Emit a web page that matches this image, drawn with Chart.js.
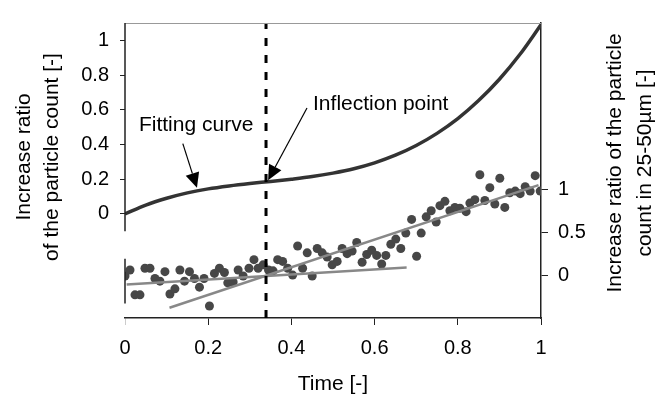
<!DOCTYPE html>
<html>
<head>
<meta charset="utf-8">
<script src="https://cdn.jsdelivr.net/npm/chart.js@4"></script>
<style>
  html, body { margin: 0; padding: 0; background: #fff; }
</style>
</head>
<body>
<canvas id="chart" width="667" height="401"></canvas>
<script>
// axis ticks
const timeTicks = [0, 0.2, 0.4, 0.6, 0.8, 1];
const leftTicks = [0, 0.2, 0.4, 0.6, 0.8, 1];
const rightTicks = [0, 0.5, 1];

// fitting curve (left axis)
const curveT = [0, 0.05, 0.1, 0.15, 0.2, 0.25, 0.3, 0.35, 0.4, 0.45, 0.5,
                0.55, 0.6, 0.65, 0.7, 0.75, 0.8, 0.85, 0.9, 0.95, 1];
const curveY = [0, 0.051, 0.09, 0.121, 0.144, 0.161, 0.175, 0.187, 0.2, 0.215, 0.235,
                0.26, 0.294, 0.338, 0.394, 0.464, 0.549, 0.653, 0.776, 0.921, 1.09];

// measured particle count ratio, 25-50um (right axis)
const scatterT = [0, 0.012, 0.024, 0.036, 0.048, 0.06, 0.072, 0.084, 0.096, 0.108,
                  0.12, 0.132, 0.143, 0.155, 0.167, 0.179, 0.19, 0.203, 0.215, 0.227,
                  0.239, 0.247, 0.26, 0.272, 0.284, 0.298, 0.31, 0.32, 0.332, 0.345,
                  0.356, 0.367, 0.379, 0.391, 0.403, 0.415, 0.427, 0.438, 0.45, 0.462,
                  0.474, 0.486, 0.498, 0.51, 0.522, 0.534, 0.546, 0.557, 0.57, 0.581,
                  0.593, 0.605, 0.617, 0.627, 0.639, 0.651, 0.663, 0.675, 0.689, 0.701,
                  0.712, 0.724, 0.736, 0.748, 0.757, 0.769, 0.781, 0.793, 0.805, 0.82,
                  0.829, 0.841, 0.853, 0.865, 0.877, 0.889, 0.901, 0.913, 0.925, 0.938,
                  0.95, 0.962, 0.974, 0.986, 0.998];
const scatterV = [-0.01, 0.06, -0.23, -0.23, 0.08, 0.08, -0.04, -0.07, 0.04, -0.22,
                  -0.16, 0.06, -0.07, 0.04, -0.04, -0.14, -0.04, -0.36, 0.02, 0.08,
                  0.03, -0.09, -0.08, 0.06, -0.01, 0.08, 0.18, 0.08, 0.12, 0.06,
                  0.05, 0.18, 0.16, 0.08, 0.0, 0.34, 0.08, 0.26, -0.01, 0.31,
                  0.26, 0.21, 0.12, 0.16, 0.31, 0.25, 0.28, 0.38, 0.15, 0.24,
                  0.29, 0.23, 0.13, 0.23, 0.36, 0.42, 0.31, 0.49, 0.65, 0.22,
                  0.49, 0.68, 0.75, 0.62, 0.81, 0.86, 0.75, 0.79, 0.78, 0.74,
                  0.84, 0.88, 1.17, 0.87, 1.02, 0.83, 1.13, 0.79, 0.96, 0.98,
                  0.95, 1.03, 0.98, 1.16, 0.98];

// two straight fits through the scatter
const fitLowT = [0.004, 0.677];
const fitLowV = [-0.11, 0.09];
const fitHighT = [0.107, 0.994];
const fitHighV = [-0.38, 1.05];

const inflectionT = 0.339;

const FONT = "'Liberation Sans', Arial, sans-serif";

// text + arrow notes, in data units of x / left axis
const notes = [
  { text: 'Fitting curve', t: 0.171, y: 0.51, align: 'center', fromT: 0.139, fromY: 0.405, toT: 0.173, toY: 0.15 },
  { text: 'Inflection point', t: 0.452, y: 0.63, align: 'left', fromT: 0.4375, fromY: 0.61, toT: 0.344, toY: 0.194 }
];

const toPoints = (xs, ys) => xs.map((x, i) => ({ x: x, y: ys[i] }));

const setTicks = (values) => (scale) => {
    scale.ticks = values.map(v => ({ value: v }));
};

const extras = {
    id: 'extras',
    afterDatasetsDraw(chart) {
        const ctx = chart.ctx;
        const x = chart.scales.x, yL = chart.scales.yL, yR = chart.scales.yR;
        const area = chart.chartArea;
        ctx.save();

        // thin top border
        ctx.strokeStyle = '#999';
        ctx.lineWidth = 1;
        ctx.beginPath();
        ctx.moveTo(area.left, area.top + 0.5);
        ctx.lineTo(area.right, area.top + 0.5);
        ctx.stroke();

        // broken left axis
        ctx.strokeStyle = '#222';
        ctx.lineWidth = 1.5;
        ctx.beginPath();
        ctx.moveTo(area.left, area.top);
        ctx.lineTo(area.left, yL.getPixelForValue(-0.1));
        ctx.moveTo(area.left, yR.getPixelForValue(0.19));
        ctx.lineTo(area.left, yR.getPixelForValue(-0.33));
        ctx.stroke();

        // notes with arrows
        ctx.fillStyle = '#000';
        ctx.strokeStyle = '#000';
        ctx.font = '21px ' + FONT;
        ctx.textBaseline = 'middle';
        notes.forEach(n => {
            ctx.textAlign = n.align;
            ctx.fillText(n.text, x.getPixelForValue(n.t), yL.getPixelForValue(n.y));
            const x0 = x.getPixelForValue(n.fromT), y0 = yL.getPixelForValue(n.fromY);
            const x1 = x.getPixelForValue(n.toT), y1 = yL.getPixelForValue(n.toY);
            const a = Math.atan2(y1 - y0, x1 - x0);
            const len = 15, half = 7;
            const bx = x1 - len * Math.cos(a), by = y1 - len * Math.sin(a);
            ctx.lineWidth = 1.2;
            ctx.beginPath();
            ctx.moveTo(x0, y0);
            ctx.lineTo(bx, by);
            ctx.stroke();
            ctx.beginPath();
            ctx.moveTo(x1, y1);
            ctx.lineTo(bx + half * Math.sin(a), by - half * Math.cos(a));
            ctx.lineTo(bx - half * Math.sin(a), by + half * Math.cos(a));
            ctx.closePath();
            ctx.fill();
        });

        // y axis titles, both reading bottom to top
        ctx.textAlign = 'center';
        const title = (lines, cx, cy, gap) => {
            ctx.save();
            ctx.translate(cx, cy);
            ctx.rotate(-Math.PI / 2);
            lines.forEach((s, i) => ctx.fillText(s, 0, i * gap));
            ctx.restore();
        };
        title(['Increase ratio', 'of the particle count [-]'], 24, 157, 28);
        title(['Increase ratio of the particle', 'count in 25-50µm [-]'], 615, 163, 30);

        ctx.restore();
    }
};

new Chart(document.getElementById('chart'), {
    type: 'line',
    data: {
        datasets: [
            {
                type: 'line',
                data: toPoints([inflectionT, inflectionT], [-0.6, 1.1]),
                yAxisID: 'yL',
                borderColor: '#000',
                borderWidth: 3,
                borderDash: [8, 9],
                pointRadius: 0,
                order: 1
            },
            {
                type: 'line',
                data: toPoints(curveT, curveY),
                yAxisID: 'yL',
                borderColor: '#333',
                borderWidth: 3.5,
                pointRadius: 0,
                cubicInterpolationMode: 'monotone',
                order: 2
            },
            {
                type: 'line',
                data: toPoints(fitLowT, fitLowV),
                yAxisID: 'yR',
                borderColor: '#888',
                borderWidth: 2.5,
                pointRadius: 0,
                order: 3
            },
            {
                type: 'line',
                data: toPoints(fitHighT, fitHighV),
                yAxisID: 'yR',
                borderColor: '#888',
                borderWidth: 2.5,
                pointRadius: 0,
                order: 3
            },
            {
                type: 'scatter',
                data: toPoints(scatterT, scatterV),
                yAxisID: 'yR',
                backgroundColor: '#474747',
                borderWidth: 0,
                pointRadius: 4.5,
                order: 4
            }
        ]
    },
    options: {
        responsive: false,
        animation: false,
        layout: { padding: { top: 12, left: 0, right: 0, bottom: 0 } },
        plugins: {
            legend: { display: false },
            tooltip: { enabled: false }
        },
        scales: {
            x: {
                type: 'linear',
                min: 0,
                max: 1,
                afterBuildTicks: setTicks(timeTicks),
                afterFit: (s) => { s.height = 83; },
                border: { display: true, color: '#222', width: 1.5 },
                grid: {
                    drawOnChartArea: false,
                    tickLength: 7,
                    tickColor: (c) => c.tick && c.tick.value === 0 ? '#ccc' : '#222'
                },
                ticks: {
                    padding: 11,
                    color: '#000',
                    font: { family: FONT, size: 20 },
                    callback: (v) => String(v)
                },
                title: {
                    display: true,
                    text: 'Time [-]',
                    color: '#000',
                    font: { family: FONT, size: 21 },
                    padding: { top: 0, bottom: 4 }
                }
            },
            yL: {
                type: 'linear',
                position: 'left',
                min: -0.6,
                max: 1.1,
                afterBuildTicks: setTicks(leftTicks),
                afterFit: (s) => { s.width = 125; },
                border: { display: false },
                grid: { drawOnChartArea: false, tickLength: 5, tickColor: '#222' },
                ticks: {
                    padding: 11,
                    color: '#000',
                    font: { family: FONT, size: 20 },
                    callback: (v) => String(v)
                }
            },
            yR: {
                type: 'linear',
                position: 'right',
                min: -0.5,
                max: 2.94,
                afterBuildTicks: setTicks(rightTicks),
                afterFit: (s) => { s.width = 126; },
                border: { display: true, color: '#222', width: 1.5 },
                grid: { drawOnChartArea: false, tickLength: 7, tickColor: '#222' },
                ticks: {
                    padding: 10,
                    color: '#000',
                    font: { family: FONT, size: 20 },
                    callback: (v) => String(v)
                }
            }
        }
    },
    plugins: [extras]
});
</script>
</body>
</html>
